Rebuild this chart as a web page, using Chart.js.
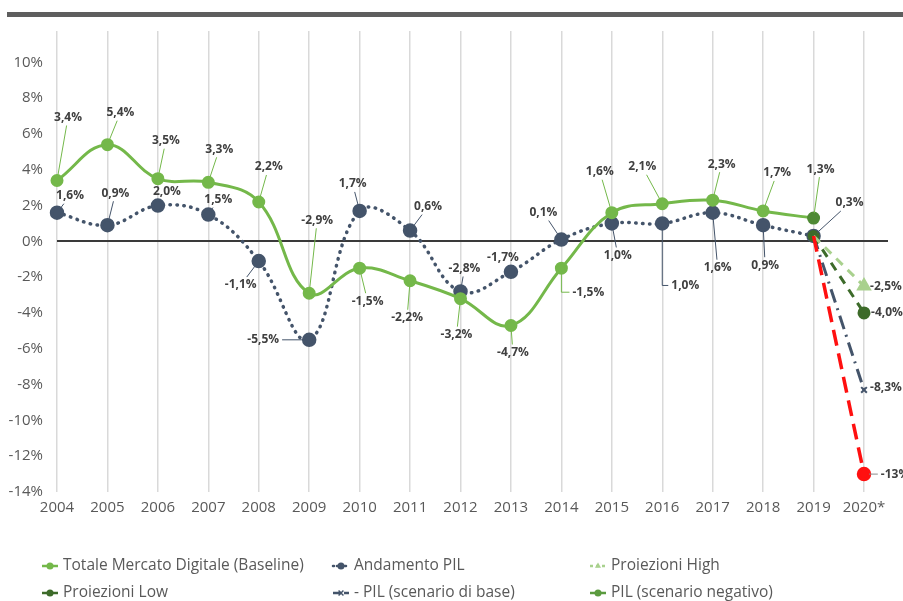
<!DOCTYPE html>
<html>
<head>
<meta charset="utf-8">
<script src="https://cdn.jsdelivr.net/npm/chart.js@4/dist/chart.umd.min.js"></script>
<style>
  html, body { margin: 0; padding: 0; background: #fff; }
  #wrap { position: relative; width: 903px; height: 601px; overflow: hidden; }
  #topbar { position: absolute; left: 7px; top: 12px; width: 896px; height: 5px; background: #5e5e5e; }
  canvas { position: absolute; left: 0; top: 0; }
</style>
</head>
<body>
<div id="wrap">
  <canvas id="c" width="903" height="601"></canvas>
  <div id="topbar"></div>
</div>
<script>
// Categories
const years = ['2004','2005','2006','2007','2008','2009','2010','2011','2012','2013','2014','2015','2016','2017','2018','2019','2020*'];

// Series values (%)
const mercatoDigitale = [3.4, 5.4, 3.5, 3.3, 2.2, -2.9, -1.5, -2.2, -3.2, -4.7, -1.5, 1.6, 2.1, 2.3, 1.7, 1.3, null];
const andamentoPil    = [1.6, 0.9, 2.0, 1.5, -1.1, -5.5, 1.7, 0.6, -2.8, -1.7, 0.1, 1.0, 1.0, 1.6, 0.9, 0.3, null];
const proiezioniHigh  = [null, null, null, null, null, null, null, null, null, null, null, null, null, null, null, 0.3, -2.5];
const proiezioniLow   = [null, null, null, null, null, null, null, null, null, null, null, null, null, null, null, 0.3, -4.0];
const pilBase         = [null, null, null, null, null, null, null, null, null, null, null, null, null, null, null, 0.3, -8.3];
const pilNegativo     = [null, null, null, null, null, null, null, null, null, null, null, null, null, null, null, 0.3, -13];

// Y tick values
const yTickValues = [-14, -12, -10, -8, -6, -4, -2, 0, 2, 4, 6, 8, 10];

// Label placement: [dx, dy, leader] (leader: 0 none, 1 straight, 2 elbow)
const mercatoLabelPos = [[11,-63,1],[13,-32,1],[8,-38,1],[11,-33,1],[10,-35,1],[8,-73,1],[8,33,1],[-3,37,1],[-4,36,1],[2,27,1],[27,24,2],[-12,-41,1],[-20,-37,1],[9,-36,1],[14,-38,1],[7,-49,1],null];
const pilLabelPos     = [[13,-17,1],[8,-32,1],[9,-14,0],[10,-15,1],[-18,24,1],[-46,0,1],[-7,-27,1],[18,-24,1],[4,-23,1],[-8,-14,0],[-18,-27,1],[6,32,1],[23,62,2],[5,55,1],[2,40,1],[36,-33,1],null];
const highLabelPos    = Array(16).fill(null).concat([[22,0,0]]);
const lowLabelPos     = Array(16).fill(null).concat([[23,0,0]]);
const baseLabelPos    = Array(16).fill(null).concat([[22,-2,0]]);
const negLabelPos     = Array(16).fill(null).concat([[31,0,1]]);

const GREEN = '#74b84a';
const DARKGREEN = '#3d6b2a';
const LIGHTGREEN = '#a9d18e';
const SLATE = '#44546a';
const RED = '#ff1010';

const fmt = (v, d) => v.toFixed(d).replace('.', ',') + '%';

const onlyLast = (r) => (c) => (c.dataIndex === 16 ? r : 0);

// Zero line, extended a little past the last category
const zeroLine = {
  id: 'zeroLine',
  beforeDatasetsDraw(chart) {
    const { ctx, chartArea } = chart;
    const y = Math.round(chart.scales.y.getPixelForValue(0));
    ctx.save();
    ctx.strokeStyle = '#3a3a3a';
    ctx.lineWidth = 2;
    ctx.beginPath();
    ctx.moveTo(chartArea.left, y);
    ctx.lineTo(chartArea.right + 24, y);
    ctx.stroke();
    ctx.restore();
  }
};

// Value labels with leader lines
const valueLabels = {
  id: 'valueLabels',
  afterDatasetsDraw(chart) {
    const ctx = chart.ctx;
    ctx.save();
    ctx.font = 'bold 12px "Open Sans"';
    ctx.textAlign = 'center';
    ctx.textBaseline = 'middle';
    chart.data.datasets.forEach((ds, di) => {
      const offs = ds.labelPos;
      if (!offs) return;
      const meta = chart.getDatasetMeta(di);
      ds.data.forEach((v, i) => {
        const o = offs[i];
        if (v == null || !o) return;
        const pt = meta.data[i];
        const px = pt.x, py = pt.y;
        const txt = fmt(v, ds.decimals);
        const w = ctx.measureText(txt).width, h = 12;
        const cx = px + o[0], cy = py + o[1];
        ctx.strokeStyle = ds.leaderColor;
        ctx.lineWidth = 1;
        if (o[2] === 1) {
          const hw = w / 2 + 3, hh = h / 2 + 2;
          const dx = px - cx, dy = py - cy;
          const t = Math.min(dx !== 0 ? hw / Math.abs(dx) : Infinity, dy !== 0 ? hh / Math.abs(dy) : Infinity);
          if (t < 1) {
            const ex = cx + dx * t, ey = cy + dy * t;
            const len = Math.hypot(px - ex, py - ey);
            const r = 5;
            if (len > r + 2) {
              const sx = px + (ex - px) * r / len, sy = py + (ey - py) * r / len;
              ctx.beginPath();
              ctx.moveTo(sx, sy);
              ctx.lineTo(ex, ey);
              ctx.stroke();
            }
          }
        } else if (o[2] === 2) {
          const sy = py + Math.sign(cy - py) * 5;
          ctx.beginPath();
          ctx.moveTo(px, sy);
          ctx.lineTo(px, cy);
          ctx.lineTo(cx - w / 2 - 3, cy);
          ctx.stroke();
        }
        ctx.fillStyle = '#404040';
        ctx.fillText(txt, cx, cy);
      });
    });
    ctx.restore();
  }
};

function drawMarker(ctx, style, x, y, r, color) {
  ctx.fillStyle = color;
  ctx.strokeStyle = color;
  ctx.beginPath();
  if (style === 'circle') {
    ctx.arc(x, y, r, 0, Math.PI * 2);
    ctx.fill();
  } else if (style === 'triangle') {
    ctx.moveTo(x, y - r);
    ctx.lineTo(x + r * 0.87, y + r * 0.5);
    ctx.lineTo(x - r * 0.87, y + r * 0.5);
    ctx.closePath();
    ctx.fill();
  } else if (style === 'crossRot') {
    ctx.lineWidth = 1.5;
    ctx.moveTo(x - r * 0.7, y - r * 0.7); ctx.lineTo(x + r * 0.7, y + r * 0.7);
    ctx.moveTo(x + r * 0.7, y - r * 0.7); ctx.lineTo(x - r * 0.7, y + r * 0.7);
    ctx.stroke();
  }
}

// Legend in three columns, two rows
const gridLegend = {
  id: 'gridLegend',
  afterDraw(chart) {
    const ctx = chart.ctx;
    const cols = [42, 333, 590];
    const rows = [566, 593];
    ctx.save();
    ctx.font = '15.5px "Open Sans"';
    ctx.textBaseline = 'middle';
    ctx.textAlign = 'left';
    chart.data.datasets.forEach((ds, i) => {
      const x = cols[i % 3], y = rows[Math.floor(i / 3)];
      const col = ds.legendColor || ds.borderColor;
      ctx.save();
      ctx.strokeStyle = col;
      ctx.lineWidth = 2.5;
      ctx.lineCap = ds.borderCapStyle || 'butt';
      ctx.setLineDash(ds.legendDash || []);
      ctx.beginPath();
      ctx.moveTo(x, y);
      ctx.lineTo(x + 16, y);
      ctx.stroke();
      ctx.setLineDash([]);
      drawMarker(ctx, ds.pointStyle || 'circle', x + 8, y, 3.5, col);
      ctx.restore();
      ctx.fillStyle = '#595959';
      ctx.fillText(ds.label, x + 21, y);
    });
    ctx.restore();
  }
};

new Chart(document.getElementById('c'), {
  type: 'line',
  data: {
    labels: years,
    datasets: [
      {
        label: 'Totale Mercato Digitale (Baseline)',
        data: mercatoDigitale,
        borderColor: GREEN,
        backgroundColor: GREEN,
        pointBackgroundColor: (c) => (c.dataIndex === 15 ? '#4f8a35' : GREEN),
        pointBorderColor: (c) => (c.dataIndex === 15 ? '#4f8a35' : GREEN),
        borderWidth: 3,
        pointRadius: 5,
        tension: 0.4,
        labelPos: mercatoLabelPos, decimals: 1, leaderColor: GREEN,
        order: 2
      },
      {
        label: 'Andamento PIL',
        data: andamentoPil,
        borderColor: SLATE,
        backgroundColor: SLATE,
        borderWidth: 3.5,
        borderDash: [0.5, 6.5],
        borderCapStyle: 'round',
        legendDash: [1, 3],
        pointRadius: 5.5,
        tension: 0.4,
        labelPos: pilLabelPos, decimals: 1, leaderColor: SLATE,
        order: 3
      },
      {
        label: 'Proiezioni High',
        data: proiezioniHigh,
        borderColor: LIGHTGREEN,
        backgroundColor: LIGHTGREEN,
        borderWidth: 3,
        borderDash: [9, 7],
        legendDash: [3, 3],
        pointStyle: 'triangle',
        pointRadius: onlyLast(6),
        labelPos: highLabelPos, decimals: 1, leaderColor: LIGHTGREEN,
        order: 1
      },
      {
        label: 'Proiezioni Low',
        data: proiezioniLow,
        borderColor: DARKGREEN,
        backgroundColor: DARKGREEN,
        borderWidth: 3,
        borderDash: [9, 7],
        pointRadius: (c) => (c.dataIndex === 16 ? 5 : 4.5),
        labelPos: lowLabelPos, decimals: 1, leaderColor: DARKGREEN,
        order: 1
      },
      {
        label: '- PIL (scenario di base)',
        data: pilBase,
        borderColor: SLATE,
        backgroundColor: SLATE,
        borderWidth: 3,
        borderDash: [14, 6, 2, 6],
        legendDash: [8, 3],
        pointStyle: 'crossRot',
        pointRadius: onlyLast(4),
        pointBorderWidth: 2,
        labelPos: baseLabelPos, decimals: 1, leaderColor: SLATE,
        order: 1
      },
      {
        label: 'PIL (scenario negativo)',
        data: pilNegativo,
        borderColor: RED,
        backgroundColor: RED,
        legendColor: '#5b9b3f',
        borderWidth: 3.5,
        borderDash: [16, 8],
        pointRadius: onlyLast(5.5),
        labelPos: negLabelPos, decimals: 0, leaderColor: '#8a8a8a',
        order: 0
      }
    ]
  },
  options: {
    responsive: false,
    animation: false,
    layout: { padding: { top: 31, right: 39, bottom: 0, left: 0 }, autoPadding: false },
    plugins: { legend: { display: false }, tooltip: { enabled: false } },
    scales: {
      x: {
        type: 'category',
        offset: false,
        grid: { color: '#d9d9d9', lineWidth: 1.5, drawTicks: false },
        border: { display: false },
        ticks: { color: '#595959', font: { family: 'Open Sans', size: 15 }, padding: 7, maxRotation: 0, autoSkip: false },
        afterFit: (s) => { s.height = 109; }
      },
      y: {
        min: -14,
        max: 11.75,
        grid: { display: false, drawTicks: false },
        border: { display: false },
        afterBuildTicks: (s) => { s.ticks = yTickValues.map((v) => ({ value: v })); },
        ticks: {
          color: '#595959',
          font: { family: 'Open Sans', size: 15 },
          padding: 14,
          callback: (v) => v + '%'
        },
        afterFit: (s) => { s.width = 57; }
      }
    }
  },
  plugins: [zeroLine, valueLabels, gridLegend]
});
</script>
</body>
</html>
